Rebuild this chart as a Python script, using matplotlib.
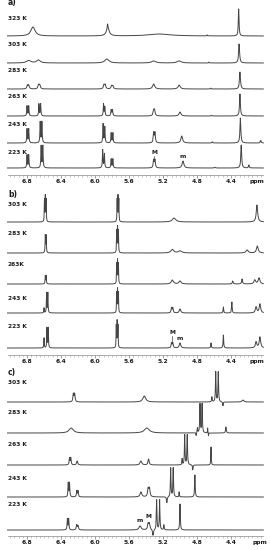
import numpy as np
import matplotlib
matplotlib.use('Agg')
from matplotlib import pyplot as plt
from matplotlib.ticker import FixedLocator, MultipleLocator, FormatStrFormatter

# peak lists: (ppm, height, half width), one list per trace, bottom trace first
temps_a = ['223 K', '243 K', '263 K', '283 K', '303 K', '323 K']
peaks_a = [
	[(6.80, 13, 0.004), (6.78, 13, 0.004), (6.634, 22, 0.004), (6.614, 22, 0.004),
	 (5.91, 18, 0.004), (5.89, 14, 0.004), (5.81, 9, 0.004), (5.79, 9, 0.004),
	 (5.31, 8, 0.006), (5.295, 8, 0.006), (4.965, 7, 0.012), (4.59, 0.8, 0.006),
	 (4.28, 23, 0.006), (4.19, 3, 0.005)],
	[(6.80, 14, 0.004), (6.78, 14, 0.004), (6.645, 21, 0.004), (6.625, 21, 0.004),
	 (5.905, 19, 0.004), (5.885, 16, 0.004), (5.81, 10, 0.004), (5.79, 10, 0.004),
	 (5.31, 10, 0.006), (5.295, 10, 0.006), (4.98, 7, 0.012), (4.62, 1.2, 0.005),
	 (4.29, 25, 0.006), (4.05, 2.5, 0.006)],
	[(6.80, 10, 0.004), (6.78, 10, 0.004), (6.66, 12, 0.004), (6.64, 12, 0.004),
	 (5.90, 12, 0.004), (5.885, 9, 0.004), (5.81, 6, 0.005), (5.795, 6, 0.005),
	 (5.31, 5, 0.008), (5.30, 5, 0.008), (5.00, 4, 0.013), (4.63, 0.8, 0.005),
	 (4.295, 22, 0.006)],
	[(6.795, 3.5, 0.008), (6.78, 3.5, 0.008), (6.665, 4, 0.008), (6.65, 4, 0.008),
	 (5.895, 4, 0.008), (5.88, 4, 0.008), (5.805, 3, 0.008), (5.79, 3, 0.008),
	 (5.31, 5, 0.015), (5.01, 4, 0.015), (4.64, 0.8, 0.005), (4.295, 17, 0.007)],
	[(6.78, 2.5, 0.03), (6.665, 3, 0.025), (5.86, 4, 0.03), (5.31, 2, 0.03),
	 (5.01, 2, 0.03), (4.66, 0.8, 0.004), (4.305, 19, 0.007)],
	[(6.73, 9, 0.03), (5.85, 8, 0.02), (5.852, 4, 0.004), (5.24, 2, 0.15),
	 (4.68, 1, 0.004), (4.31, 27, 0.005)],
]

temps_b = ['223 K', '243 K', '263K', '283 K', '303 K']
peaks_b = [
	[(6.60, 10, 0.003), (6.565, 20, 0.003), (6.55, 20, 0.003),
	 (5.75, 22, 0.0025), (5.74, 26, 0.0025), (5.73, 22, 0.0025),
	 (5.10, 5, 0.006), (5.085, 5, 0.006), (5.00, 5, 0.01), (4.635, 5, 0.004),
	 (4.49, 13, 0.004), (4.105, 6, 0.01), (4.06, 11, 0.01)],
	[(6.60, 5, 0.003), (6.57, 20, 0.003), (6.555, 20, 0.003),
	 (5.745, 20, 0.0025), (5.735, 23, 0.0025), (5.725, 20, 0.0025),
	 (5.10, 5, 0.006), (5.085, 5, 0.006), (5.00, 4, 0.01), (4.49, 6, 0.004),
	 (4.39, 11, 0.004), (4.105, 6, 0.01), (4.06, 9, 0.01)],
	[(6.585, 8, 0.003), (6.575, 8, 0.003),
	 (5.745, 20, 0.0025), (5.735, 23, 0.0025), (5.725, 20, 0.0025),
	 (5.09, 4, 0.015), (5.00, 3, 0.015), (4.38, 3, 0.006), (4.27, 5, 0.006),
	 (4.12, 4, 0.012), (4.07, 6, 0.012)],
	[(6.585, 17, 0.003), (6.575, 17, 0.003),
	 (5.745, 22, 0.0025), (5.735, 25, 0.0025), (5.725, 22, 0.0025),
	 (5.09, 3.5, 0.02), (5.00, 2, 0.025), (4.21, 3, 0.015), (4.09, 7, 0.012)],
	[(6.595, 22, 0.0025), (6.585, 25, 0.0025), (6.575, 22, 0.0025),
	 (5.74, 22, 0.0025), (5.73, 25, 0.0025), (5.72, 22, 0.0025),
	 (5.07, 4, 0.025), (4.095, 17, 0.01)],
]

temps_c = ['223 K', '243 K', '263 K', '283 K', '303 K']
peaks_c = [
	[(6.325, 11, 0.004), (6.31, 11, 0.004), (6.215, 5, 0.006), (6.20, 4, 0.006),
	 (5.47, 4, 0.015), (5.375, 6, 0.008), (5.36, 6, 0.008), (5.318, -6, 0.006),
	 (5.275, 30, 0.004), (5.24, 30, 0.004), (5.19, 5, 0.004), (5.00, 26, 0.004)],
	[(6.315, 14, 0.004), (6.30, 14, 0.004), (6.215, 6, 0.005), (6.20, 6, 0.005),
	 (5.46, 5, 0.012), (5.375, 8, 0.008), (5.36, 8, 0.008), (5.155, -6, 0.005),
	 (5.11, 29, 0.004), (5.08, 29, 0.004), (5.01, 5, 0.003), (4.825, 22, 0.004)],
	[(6.30, 7, 0.005), (6.285, 7, 0.005), (6.21, 4, 0.008), (5.46, 4, 0.012),
	 (5.37, 6, 0.008), (4.975, 6, 0.003), (4.945, 30, 0.004), (4.915, 30, 0.004),
	 (4.85, -5, 0.004), (4.635, 18, 0.003)],
	[(6.28, 5, 0.03), (5.39, 5, 0.035), (4.81, -3, 0.003), (4.795, 5, 0.003),
	 (4.765, 29, 0.004), (4.74, 29, 0.004), (4.675, 5, 0.002), (4.665, -3, 0.002),
	 (4.46, 6, 0.005)],
	[(6.255, 8, 0.006), (6.24, 8, 0.006), (5.42, 6, 0.02), (4.625, 5, 0.004),
	 (4.58, 30, 0.004), (4.55, 30, 0.004), (4.495, -4, 0.004), (4.26, 2, 0.012)],
]

ticks = [6.8, 6.4, 6.0, 5.6, 5.2, 4.8, 4.4]

LINE = '#454545'
TXT = '#1a1a1a'
ppm = np.linspace(4.02, 7.03, 7000)


def spectrum(peaks):
	y = np.zeros_like(ppm)
	for x0, h, w in peaks:
		y += h * w**2 / ((ppm - x0)**2 + w**2)
	return y


def panel(rect, top, letter, letter_y, temps, peaks, offsets, label_ys, ppm_x):
	ax = fig.add_axes(rect)
	for t, pk, off, ly in zip(temps, peaks, offsets, label_ys):
		ax.plot(ppm, spectrum(pk) + off, color=LINE, lw=0.7, clip_on=False)
		ax.text(0.0, ly, t, transform=ax.get_yaxis_transform(), fontsize=4.2,
				fontweight='bold', color=TXT, va='center', ha='left')
	ax.text(0.0, letter_y, letter, transform=ax.get_yaxis_transform(), fontsize=5.5,
			fontweight='bold', color=TXT, va='center', ha='left')
	ax.set_xlim(7.024, 4.024)
	ax.set_ylim(0, top)
	for s in ('top', 'left', 'right'):
		ax.spines[s].set_visible(False)
	ax.spines['bottom'].set_color('#8a8a8a')
	ax.spines['bottom'].set_linewidth(0.5)
	ax.set_yticks([])
	ax.xaxis.set_major_locator(FixedLocator(ticks))
	ax.xaxis.set_minor_locator(MultipleLocator(0.05))
	ax.xaxis.set_major_formatter(FormatStrFormatter('%.1f'))
	ax.tick_params(axis='x', which='major', length=2, width=0.5, color='#777777',
				   labelsize=4.3, pad=1.2, labelcolor=TXT)
	ax.tick_params(axis='x', which='minor', length=1.2, width=0.4, color='#999999')
	for lab in ax.get_xticklabels():
		lab.set_fontweight('bold')
	ax.annotate('ppm', xy=(ppm_x, 0), xycoords=('data', 'axes fraction'),
				xytext=(0, -5), textcoords='offset points', fontsize=4.3,
				fontweight='bold', color=TXT, ha='center', va='center')
	return ax


fig = plt.figure(figsize=(2.7, 5.5), dpi=100)
W, H = 270.0, 550.0
left = 8 / W
width = 255 / W

ax_a = panel([left, (H - 175) / H, width, 175 / H], 175, 'a)', 172,
			 temps_a, peaks_a, [7, 32, 59, 86, 112, 139], [23, 50, 78, 105, 131, 157], 4.09)
ax_b = panel([left, (H - 355) / H, width, 170 / H], 170, 'b)', 161,
			 temps_b, peaks_b, [7, 42, 71, 102, 133], [29, 57, 90, 122, 151], 4.09)
ax_c = panel([left, (H - 536) / H, width, 171 / H], 171, 'c)', 163,
			 temps_c, peaks_c, [6, 39, 71, 103, 134], [31, 58, 91, 123, 153], 4.06)

# M / m assignments
kw = dict(fontsize=4.3, fontweight='bold', color=TXT, ha='center', va='center')
ax_a.text(5.303, 22.5, 'M', **kw)
ax_a.plot([5.303, 5.303], [17.5, 19.5], color=LINE, lw=0.5)
ax_a.text(4.965, 18, 'm', **kw)
ax_b.text(5.092, 23, 'M', **kw)
ax_b.plot([5.092, 5.092], [14, 19.5], color=LINE, lw=0.5)
ax_b.text(5.00, 16, 'm', **kw)
ax_c.text(5.47, 16, 'm', **kw)
ax_c.text(5.368, 20, 'M', **kw)

plt.savefig('out.png', dpi=100)
